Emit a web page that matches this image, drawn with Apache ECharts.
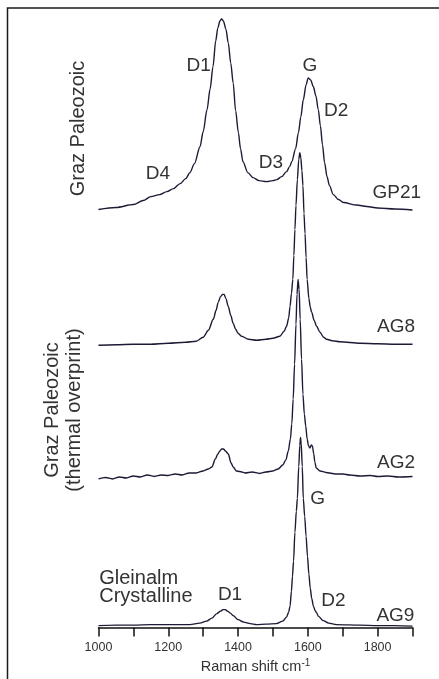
<!DOCTYPE html>
<html>
<head>
<meta charset="utf-8">
<script src="https://cdn.jsdelivr.net/npm/echarts@6/dist/echarts.min.js"></script>
<style>
html,body{margin:0;padding:0;background:#fff;}
#chart{width:439px;height:679px;}
</style>
</head>
<body>
<div id="chart"></div>
<script>
// Raman shift (cm-1) and relative intensity
const xTicks = [1000, 1200, 1400, 1600, 1800];

const gp21Shift = [1000,1050,1100,1128,1150,1175,1196,1215,1234,1250,1262,1275,1291,1300,1311,1320,1328,1336,1342,1348,1353,1358,1365,1372,1379,1386,1393,1401,1407,1414,1428,1443,1460,1482,1500,1511,1525,1539,1548,1554,1565,1573,1580,1587,1595,1601,1608,1616,1623,1630,1636,1642,1648,1655,1662,1673,1688,1702,1740,1769,1800,1850,1900];
const gp21Int   = [1,3,6,10,14,16,19,22,27,32,38,47,64,79,101,122,144,170,183,190,192,190,182,168,148,128,100,78,62,49,38,33,30,29,30,31,34,39,44,49,62,78,94,111,126,133,131,124,115,101,85,66,48,34,25,16,11,8,5.5,4,2.5,1.5,0.5];

const ag8Shift = [1000,1050,1100,1150,1200,1250,1280,1300,1315,1329,1337,1343,1350,1356,1360,1365,1372,1379,1386,1393,1400,1410,1430,1453,1480,1500,1520,1532,1539,1545,1549,1553,1557,1560,1563,1566,1570,1574,1577,1580,1583,1586,1589,1592,1595,1598,1603,1607,1611,1618,1625,1635,1645,1654,1670,1692,1750,1800,1850,1900];
const ag8Int   = [0,0.5,1,1,2,3,4,8,15,26,35,43,49,51,51,47,39,30,22,16,12,9,6,5,6,7,9,14,19,27,39,52,66,90,116,140,166,186,193,188,175,160,132,112,88,66,47,38,33,25,19,13,8,6,4.5,3.5,2,1.5,1,1];

const ag2Shift = [1000,1020,1040,1060,1080,1100,1120,1140,1160,1180,1200,1220,1240,1260,1280,1300,1315,1325,1335,1342,1348,1353,1358,1364,1372,1380,1386,1395,1405,1420,1440,1462,1480,1500,1515,1528,1537,1544,1550,1554,1558,1562,1566,1569,1572,1575,1578,1582,1586,1590,1594,1598,1602,1606,1610,1613,1617,1620,1624,1635,1652,1680,1700,1720,1750,1780,1800,1830,1860,1900];
const ag2Int   = [0,1.5,0,2,1,3,2,4,2.5,4,3.5,5,4,6,6,8,10,12,20,25,28,30,30,28,25,16,12,8,7.5,6,7,5.5,7,8,10,14,19,28,40,55,80,115,155,185,200,190,160,120,85,65,53,40,33,31,34,33,25,17,11,8,6.5,5,5,4,3,3.5,2.5,3,2,2.5];

const ag9Shift = [1000,1050,1100,1150,1200,1262,1290,1310,1325,1339,1350,1357,1363,1370,1378,1386,1400,1416,1435,1453,1480,1510,1528,1539,1545,1549,1553,1556,1559,1563,1567,1570,1574,1577,1579,1581,1584,1587,1591,1595,1599,1603,1607,1611,1616,1621,1625,1630,1644,1660,1682,1750,1800,1850,1900];
const ag9Int   = [0.5,1,1,1.5,1.5,1.5,3,5,8,12.5,15,16.5,16.5,15,13,10.5,6.5,4,2.5,1.5,2,2.5,5,9,14,20,35,50,65,94,115,128,160,181,189,183,160,128,110,90,70,52,38,28,20,15.5,13.5,10,5.5,3,1.5,1,0.5,0.5,0];

const sampleNames = ['GP21', 'AG8', 'AG2', 'AG9'];
const baselines   = [418, 283, 149, 1.5];   // vertical stacking offsets

const LINE = '#1b1b36';
const TXT = '#333333';
const FONT = '"Liberation Sans", Arial, sans-serif';

function stack(xs, ys, off) { return xs.map((x, i) => [x, ys[i] + off]); }

const spectra = [[gp21Shift, gp21Int], [ag8Shift, ag8Int], [ag2Shift, ag2Int], [ag9Shift, ag9Int]];

const chart = echarts.init(document.getElementById('chart'), null, {renderer: 'canvas'});

chart.setOption({
  animation: false,
  backgroundColor: '#fff',
  grid: {left: 98.5, right: 26.5, top: 9, bottom: 50, containLabel: false},
  xAxis: {
    type: 'value', min: 1000, max: 1900, interval: 100,
    axisLine: {show: true, lineStyle: {color: '#111', width: 1.5}},
    axisTick: {show: true, length: 9, inside: false, lineStyle: {color: '#111', width: 1.5}},
    splitLine: {show: false},
    axisLabel: {
      margin: 13, color: TXT, fontSize: 12.5, fontFamily: FONT,
      formatter: v => (xTicks.indexOf(v) >= 0 ? String(v) : '')
    },
    name: '{a|Raman shift cm}{b|-1}',
    nameLocation: 'middle', nameGap: 28,
    nameTextStyle: {
      rich: {
        a: {fontSize: 14.5, color: TXT, fontFamily: FONT, lineHeight: 16},
        b: {fontSize: 10, color: TXT, fontFamily: FONT, verticalAlign: 'top', lineHeight: 10}
      }
    }
  },
  yAxis: {type: 'value', min: 0, max: 620, show: false},
  series: spectra.map((s, i) => ({
    name: sampleNames[i],
    type: 'line',
    data: stack(s[0], s[1], baselines[i]),
    showSymbol: false,
    smooth: 0.3,
    smoothMonotone: 'x',
    lineStyle: {color: LINE, width: 1.4},
    z: 2
  }))
});

// annotation labels in data coordinates (cm-1, stacked intensity)
const annotations = [
  {t: 'D1', x: 1287, y: 563.5},
  {t: 'G', x: 1606, y: 563},
  {t: 'D2', x: 1681, y: 518},
  {t: 'D3', x: 1494, y: 466},
  {t: 'D4', x: 1170, y: 455},
  {t: 'GP21', x: 1855, y: 436},
  {t: 'AG8', x: 1853, y: 301.5},
  {t: 'AG2', x: 1853, y: 165},
  {t: 'G', x: 1628, y: 129},
  {t: 'D1', x: 1377, y: 33},
  {t: 'D2', x: 1673, y: 26.5},
  {t: 'AG9', x: 1851, y: 12}
];
const leftNotes = [
  {t: 'Gleinalm', x: 1002, y: 49},
  {t: 'Crystalline', x: 1002, y: 31.5}
];

const g = [];
g.push({type: 'rect', shape: {x: 7.5, y: 8, width: 600, height: 800},
        style: {fill: 'none', stroke: '#1a1a1a', lineWidth: 1.5}, silent: true});
annotations.forEach(a => {
  const p = chart.convertToPixel({gridIndex: 0}, [a.x, a.y]);
  g.push({type: 'text', x: p[0], y: p[1], style: {text: a.t, fill: TXT, fontSize: 19, fontFamily: FONT, align: 'center', verticalAlign: 'middle'}});
});
leftNotes.forEach(a => {
  const p = chart.convertToPixel({gridIndex: 0}, [a.x, a.y]);
  g.push({type: 'text', x: p[0], y: p[1], style: {text: a.t, fill: TXT, fontSize: 20, fontFamily: FONT, align: 'left', verticalAlign: 'middle'}});
});
g.push({type: 'text', x: 78, y: 128.5, rotation: Math.PI / 2,
        style: {text: 'Graz Paleozoic', fill: TXT, fontSize: 20, fontFamily: FONT, align: 'center', verticalAlign: 'middle'}});
g.push({type: 'text', x: 63, y: 410, rotation: Math.PI / 2,
        style: {text: 'Graz Paleozoic\n(thermal overprint)', fill: TXT, fontSize: 20, lineHeight: 22, fontFamily: FONT, align: 'center', verticalAlign: 'middle'}});

chart.setOption({graphic: {elements: g}});
</script>
</body>
</html>
